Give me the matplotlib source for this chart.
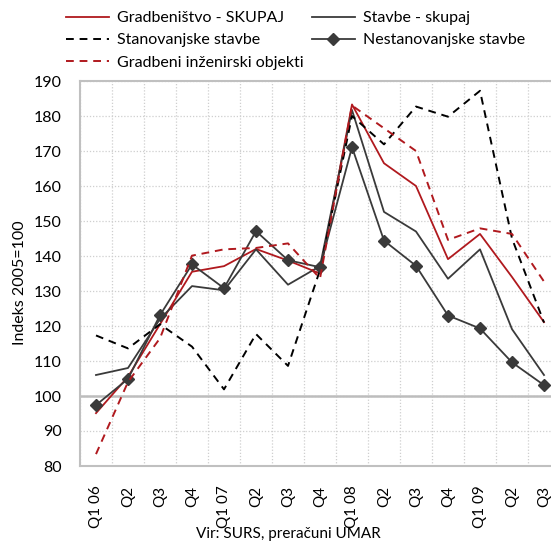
import matplotlib
matplotlib.use("Agg")
import matplotlib.pyplot as plt
import numpy as np

plt.rcParams['font.family'] = ['Lato', 'DejaVu Sans']

quarters = ["Q1 06", "Q2", "Q3", "Q4", "Q1 07", "Q2", "Q3", "Q4",
            "Q1 08", "Q2", "Q3", "Q4", "Q1 09", "Q2", "Q3"]
gradbenistvo = [95.1, 105.5, 120.5, 135.5, 137.1, 142.0, 138.7, 135.0,
                183.3, 166.5, 160.0, 139.1, 146.3, 134.0, 121.1]
stavbe = [106.0, 108.0, 122.0, 131.4, 130.2, 141.9, 131.8, 137.1,
          181.7, 152.6, 147.0, 133.5, 141.9, 119.1, 106.0]
stanovanjske = [117.3, 113.6, 120.5, 114.1, 101.9, 117.7, 108.6, 136.0,
                180.0, 171.9, 182.7, 179.8, 187.2, 145.0, 121.0]
nestanovanjske = [97.4, 104.9, 123.1, 137.6, 130.8, 147.1, 138.8, 136.8,
                  171.1, 144.4, 137.2, 123.0, 119.3, 109.6, 103.1]
inzenirski = [83.4, 104.0, 116.5, 140.1, 141.9, 142.3, 143.6, 133.6,
              183.0, 176.5, 170.0, 144.6, 147.9, 146.3, 132.7]

W, H = 551, 543
fig = plt.figure(figsize=(W / 100, H / 100), dpi=100)
ax_l, ax_r, ax_t, ax_b = 80, 560, 81, 466
ax = fig.add_axes([ax_l / W, 1 - ax_b / H, (ax_r - ax_l) / W, (ax_b - ax_t) / H])

x = np.arange(len(quarters))
red = '#b0191e'
dark = '#3a3a3a'

h1, = ax.plot(x, gradbenistvo, color=red, lw=1.3, label='Gradbeništvo - SKUPAJ')
h2, = ax.plot(x, stavbe, color=dark, lw=1.3, label='Stavbe - skupaj')
h3, = ax.plot(x, stanovanjske, color='black', lw=1.4, ls=(0, (4, 3)), label='Stanovanjske stavbe')
h4, = ax.plot(x, nestanovanjske, color=dark, lw=1.3, marker='D', ms=6.5,
              markeredgecolor=dark, markerfacecolor=dark, label='Nestanovanjske stavbe')
h5, = ax.plot(x, inzenirski, color=red, lw=1.4, ls=(0, (4, 3)), label='Gradbeni inženirski objekti')

ax.set_xlim(-0.5, len(quarters) - 0.5)
ax.set_ylim(80, 190)
ax.set_yticks(np.arange(80, 191, 10))
ax.set_xticks(x)
ax.set_xticklabels(quarters, rotation=90, fontsize=11)
ax.tick_params(axis='y', labelsize=11.5, length=0, pad=13)
ax.tick_params(axis='x', length=0, pad=14)
for lbl in ax.get_xticklabels():
    lbl.set_va('top')

ax.set_xticks(np.arange(-0.5, len(quarters), 1), minor=True)
ax.tick_params(which='minor', length=0)
ax.grid(True, which='minor', axis='x', color='#cfcfcf', ls=(0, (1, 1.5)), lw=0.9)
ax.grid(True, which='major', axis='y', color='#cfcfcf', ls=(0, (1, 1.5)), lw=0.9)
ax.grid(False, which='major', axis='x')
ax.axhline(100, color='#bdbdbd', lw=1.8, zorder=1)
ax.set_axisbelow(True)
for s in ['left', 'top', 'bottom', 'right']:
    ax.spines[s].set_color('#c0c0c0')
    ax.spines[s].set_linewidth(1.5)

fig.text(20 / W, 1 - 283 / H, 'Indeks 2005=100', rotation=90, ha='center', va='center', fontsize=11.5)
fig.text(288 / W, 1 - 534 / H, 'Vir: SURS, preračuni UMAR', ha='center', va='center', fontsize=11)

# Title: only its descenders are visible at the top edge in the reference
title_str = 'Vrednost opravljenih gradbenih del'
tkw = dict(fontsize=13, fontweight='bold')
renderer = fig.canvas.get_renderer()
tmp = fig.text(0, 0, 'Vrednost o', **tkw)
prefix_w = tmp.get_window_extent(renderer).width
tmp.remove()
fig.text((203 - prefix_w) / W, 1 + 3 / H, title_str, ha='left', va='baseline', **tkw)

leg = fig.legend(handles=[h1, h3, h5, h2, h4], loc='upper left',
                 bbox_to_anchor=(66 / W, 1 - 11 / H), ncol=2, frameon=False,
                 fontsize=11.5, handlelength=2.7, handletextpad=0.5,
                 columnspacing=0.5, labelspacing=0.5, borderpad=0, borderaxespad=0)

fig.savefig('out.png', dpi=100)
